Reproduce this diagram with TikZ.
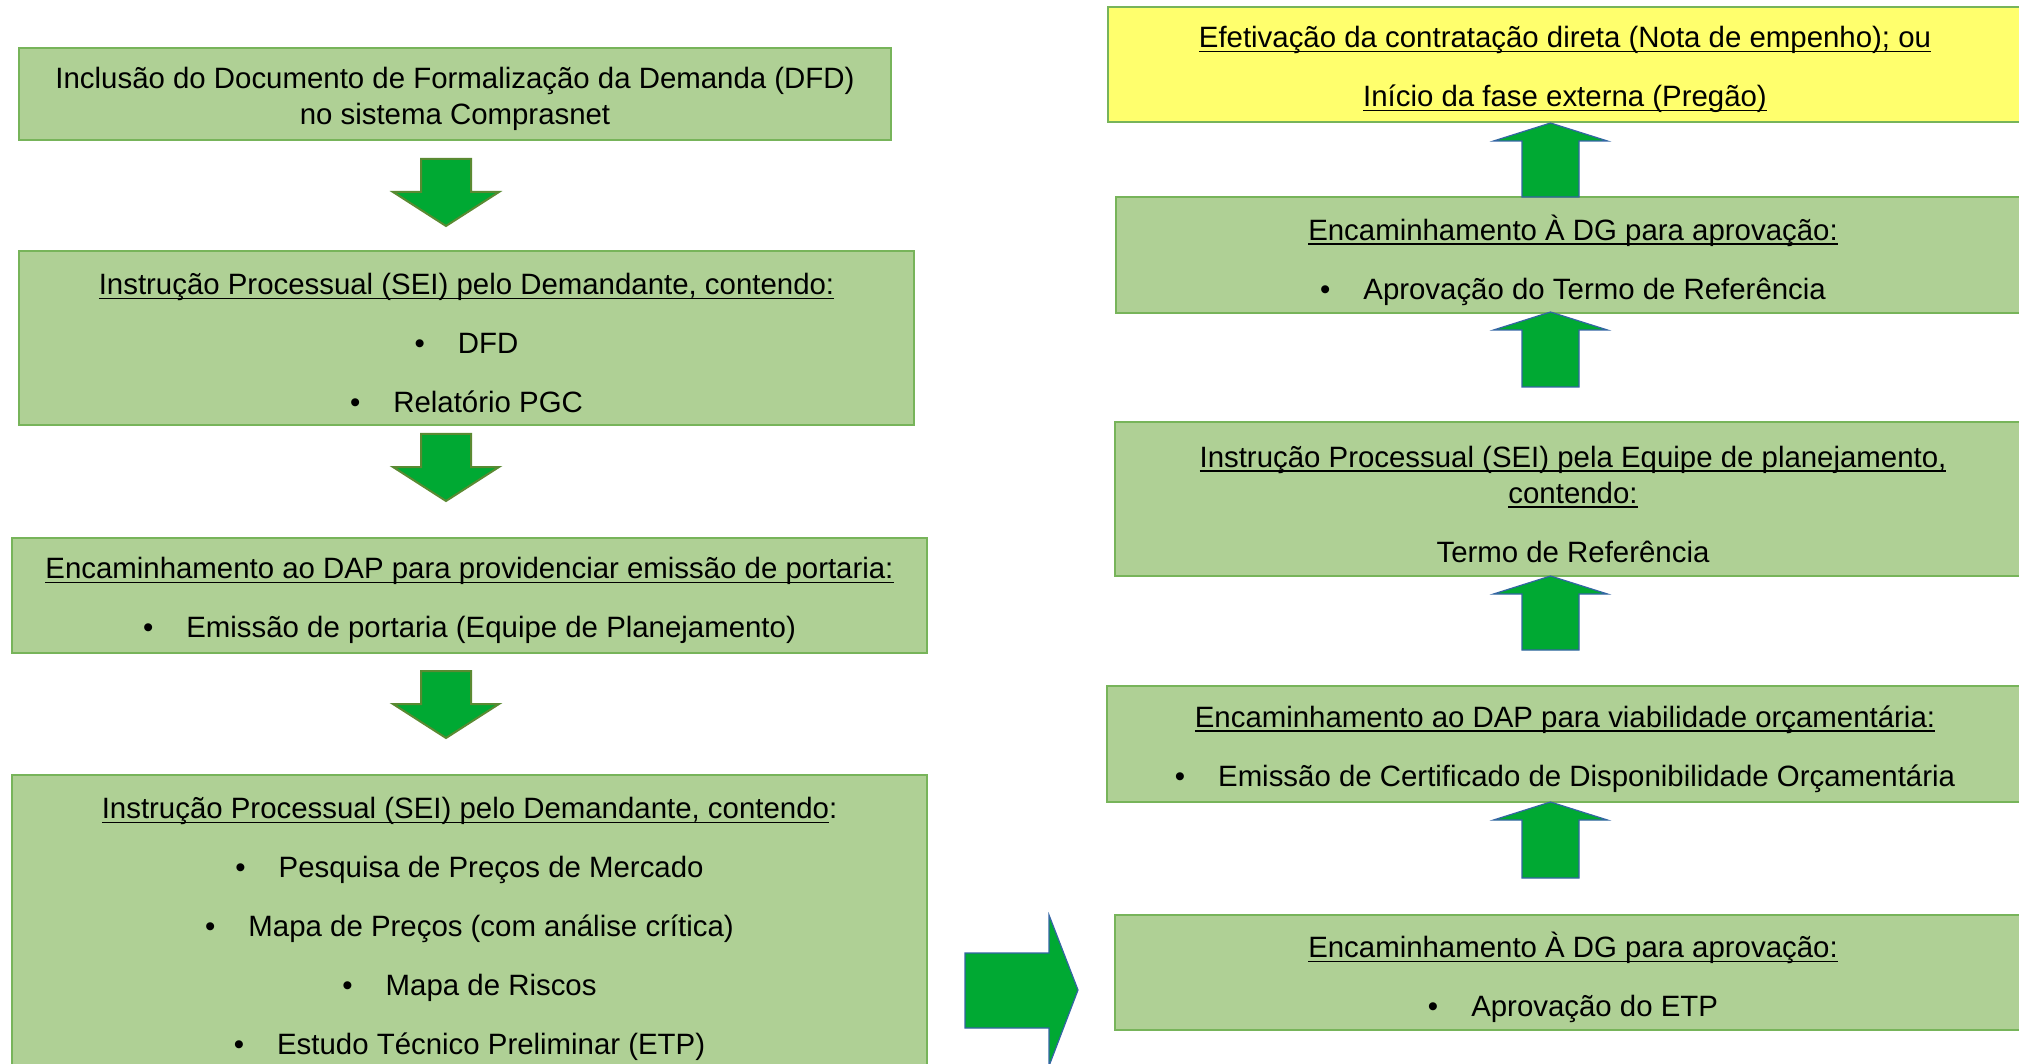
\documentclass[tikz,border=0pt]{standalone}
\usepackage{fontspec}
\setmainfont{Liberation Sans}
\newsavebox{\myulbox}
\newcommand{\myul}[1]{\leavevmode\sbox{\myulbox}{#1}\rlap{\vrule height -3pt depth 4.8pt width \wd\myulbox}\usebox{\myulbox}}
\definecolor{gfill}{HTML}{AFD095}
\definecolor{gline}{HTML}{77B45A}
\definecolor{yfill}{HTML}{FFFF6D}
\definecolor{afill}{HTML}{00A933}
\definecolor{adown}{HTML}{5A8A32}
\definecolor{aup}{HTML}{3465A4}
\newcommand{\bul}[1]{\textbullet\hspace{33pt}#1}
\tikzset{
  gbox/.style={draw=gline, fill=gfill, line width=2pt, rectangle, inner sep=0pt, outer sep=0pt},
  ybox/.style={gbox, fill=yfill},
  txt/.style={inner sep=0pt, align=center, font=\fontsize{29.4}{36}\selectfont, yshift=-5pt},
  dnarr/.style={fill=afill, draw=adown, line width=2pt, line join=miter},
  uparr/.style={fill=afill, draw=aup, line width=1.2pt, line join=miter},
}
\newcommand{\dnarrowshape}[4]{% x, ytop, yheadbase, ytip
  \filldraw[dnarr] (#1-25,#2) -- (#1+25,#2) -- (#1+25,#3) -- (#1+53,#3) -- (#1,#4) -- (#1-53,#3) -- (#1-25,#3) -- cycle;}
\newcommand{\uparrowshape}[4]{% x, ytip, yheadbase, ybottom
  \filldraw[uparr] (#1,#2) -- (#1+57,#3) -- (#1+28.5,#3) -- (#1+28.5,#4) -- (#1-28.5,#4) -- (#1-28.5,#3) -- (#1-57,#3) -- cycle;}
\begin{document}
\begin{tikzpicture}[x=1pt,y=-1pt]
\useasboundingbox (0,0) rectangle (2019,1064);
% left column
\node[gbox, minimum width=872, minimum height=92] (b1) at (455,94) {};
\node[txt] (b1t) at (b1.center)
  {Inclusão do Documento de Formalização da Demanda (DFD)\\no sistema Comprasnet};
\node[gbox, minimum width=895, minimum height=174] (b2) at (466.5,338) {};
\node[txt] (b2t) at (b2.center)
  {\myul{Instrução Processual (SEI) pelo Demandante, contendo:}\\[23pt]
   \bul{DFD}\\[23pt]
   \bul{Relatório PGC}};
\node[gbox, minimum width=915, minimum height=115] (b3) at (469.5,595.5) {};
\node[txt] (b3t) at (b3.center)
  {\myul{Encaminhamento ao DAP para providenciar emissão de portaria:}\\[23pt]
   \bul{Emissão de portaria (Equipe de Planejamento)}};
\node[gbox, minimum width=915, minimum height=298] (b4) at (469.5,924) {};
\node[txt] (b4t) at (b4.center)
  {\myul{Instrução Processual (SEI) pelo Demandante, contendo}:\\[23pt]
   \bul{Pesquisa de Preços de Mercado}\\[23pt]
   \bul{Mapa de Preços (com análise crítica)}\\[23pt]
   \bul{Mapa de Riscos}\\[23pt]
   \bul{Estudo Técnico Preliminar (ETP)}};
% right column
\node[ybox, minimum width=914, minimum height=115] (y1) at (1565,64.5) {};
\node[txt] (y1t) at (y1.center)
  {\myul{Efetivação da contratação direta (Nota de empenho); ou}\\[23pt]
   \myul{Início da fase externa (Pregão)}};
\node[gbox, minimum width=914, minimum height=116] (r2) at (1573,255) {};
\node[txt] (r2t) at (r2.center)
  {\myul{Encaminhamento À DG para aprovação:}\\[23pt]
   \bul{Aprovação do Termo de Referência}};
\node[gbox, minimum width=916, minimum height=154] (r3) at (1573,499) {};
\node[txt] (r3t) at (r3.center)
  {\myul{Instrução Processual (SEI) pela Equipe de planejamento,}\\
   \myul{contendo:}\\[23pt]
   Termo de Referência};
\node[gbox, minimum width=916, minimum height=116] (r4) at (1565,744) {};
\node[txt] (r4t) at (r4.center)
  {\myul{Encaminhamento ao DAP para viabilidade orçamentária:}\\[23pt]
   \bul{Emissão de Certificado de Disponibilidade Orçamentária}};
\node[gbox, minimum width=916, minimum height=115] (r5) at (1573,972.5) {};
\node[txt] (r5t) at (r5.center)
  {\myul{Encaminhamento À DG para aprovação:}\\[23pt]
   \bul{Aprovação do ETP}};
% down arrows (left column)
\dnarrowshape{446}{159}{192}{226}
\dnarrowshape{446}{434}{467}{501}
\dnarrowshape{446}{671}{704}{738}
% right arrow from b4 to r5
\filldraw[uparr] (965,953) -- (1049,953) -- (1049,915) -- (1078,990) -- (1049,1066) -- (1049,1028) -- (965,1028) -- cycle;
% up arrows (right column)
\uparrowshape{1550.5}{123}{141}{197}
\uparrowshape{1550.5}{312}{330}{387}
\uparrowshape{1550.5}{576}{594}{650}
\uparrowshape{1550.5}{802}{820}{878}
\end{tikzpicture}
\end{document}
